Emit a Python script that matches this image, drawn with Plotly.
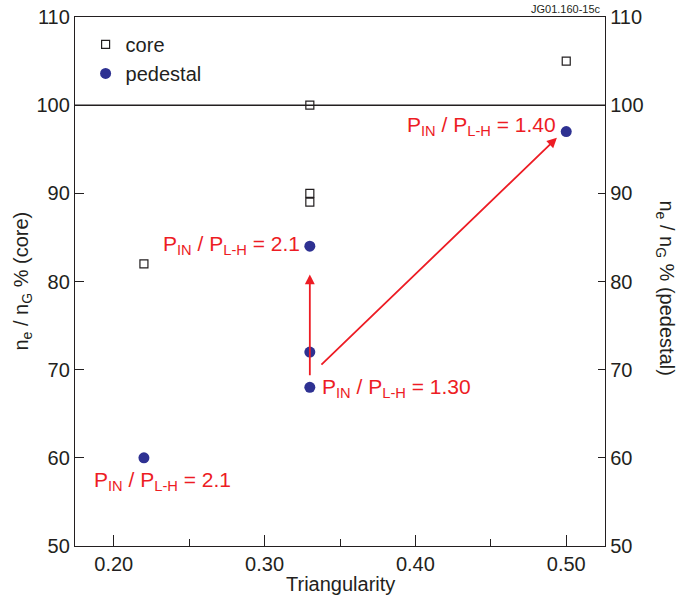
import plotly.graph_objects as go

# ---- data ----
core_x = [0.22, 0.33, 0.33, 0.33, 0.50]
core_y = [82, 100, 90, 89, 105]
ped_x = [0.22, 0.33, 0.33, 0.33, 0.50]
ped_y = [60, 84, 72, 68, 97]

x_tickvals = [0.2, 0.3, 0.4, 0.5]
x_ticktext = ["0.20", "0.30", "0.40", "0.50"]
y_tickvals = [50, 60, 70, 80, 90, 100, 110]

# arrows: (x_tail, y_tail, x_head, y_head)
arrow_tail_x = [0.33, 0.3367]
arrow_tail_y = [69.2, 70.4]
arrow_head_x = [0.33, 0.4938]
arrow_head_y = [80.8, 96.3]

# labels
sub = "P<sub>IN</sub> / P<sub>L-H</sub> = "
label_texts = [sub + "1.40", sub + "2.1", sub + "1.30", sub + "2.1"]
label_x = [0.4945, 0.3245, 0.3366, 0.1855]
label_y = [97.6, 84.1, 67.9, 57.4]
label_anchor = ["right", "right", "left", "left"]

RED = "#ED1C24"
BLUE = "#2E3192"
INK = "#231F20"
FONT = "Liberation Sans, Arial, sans-serif"

fig = go.Figure()
fig.add_trace(go.Scatter(
    x=core_x, y=core_y, mode="markers", name="core",
    marker=dict(symbol="square-open", size=8, color=INK, line=dict(width=1.2, color=INK)),
))
fig.add_trace(go.Scatter(
    x=ped_x, y=ped_y, mode="markers", name="pedestal", yaxis="y2",
    marker=dict(symbol="circle", size=11, color=BLUE, line=dict(width=0)),
))

# horizontal reference line at 100
fig.add_shape(type="line", xref="paper", x0=0, x1=1, yref="y", y0=100, y1=100,
              line=dict(color=INK, width=1.5), layer="below")

for xt, yt, xh, yh in zip(arrow_tail_x, arrow_tail_y, arrow_head_x, arrow_head_y):
    fig.add_annotation(x=xh, y=yh, ax=xt, ay=yt, xref="x", yref="y", axref="x", ayref="y",
                       text="", showarrow=True, arrowhead=2, arrowsize=1.1, arrowwidth=1.8,
                       arrowcolor=RED, standoff=0, startstandoff=0)

for t, lx, ly, anc in zip(label_texts, label_x, label_y, label_anchor):
    fig.add_annotation(x=lx, y=ly, xref="x", yref="y", text=t, showarrow=False,
                       xanchor=anc, yanchor="middle",
                       font=dict(family=FONT, size=21, color=RED))

# axis titles
fig.add_annotation(xref="paper", yref="paper", x=-0.1, y=0.5, xanchor="center", yanchor="middle",
                   text="n<sub>e</sub> / n<sub>G</sub> % (core)", textangle=-90, showarrow=False,
                   font=dict(family=FONT, size=20, color=INK))
fig.add_annotation(xref="paper", yref="paper", x=1.115, y=0.487, xanchor="center", yanchor="middle",
                   text="n<sub>e</sub> / n<sub>G</sub> % (pedestal)", textangle=90, showarrow=False,
                   font=dict(family=FONT, size=20, color=INK))
fig.add_annotation(xref="paper", yref="paper", x=0.5, y=-0.072, xanchor="center", yanchor="middle",
                   text="Triangularity", showarrow=False,
                   font=dict(family=FONT, size=20, color=INK))
fig.add_annotation(xref="paper", yref="paper", x=0.997, y=1.0, xanchor="right", yanchor="bottom",
                   text="JG01.160-15c", showarrow=False, yshift=0,
                   font=dict(family=FONT, size=11, color=INK))

axis_common = dict(showgrid=False, zeroline=False, showline=True, linecolor=INK, linewidth=1.3,
                   tickfont=dict(family=FONT, size=20, color=INK), tickcolor=INK, tickwidth=1)

fig.update_layout(
    width=683, height=603,
    margin=dict(l=75, r=78, t=17, b=57, autoexpand=False),
    paper_bgcolor="white", plot_bgcolor="white",
    showlegend=True,
    legend=dict(x=0.02, y=0.985, xanchor="left", yanchor="top", bgcolor="rgba(0,0,0,0)",
                font=dict(family=FONT, size=20, color=INK), tracegroupgap=0, itemwidth=30),
    xaxis=dict(range=[0.1743, 0.5257], tickvals=x_tickvals, ticktext=x_ticktext,
               ticks="inside", ticklen=11, mirror=True,
               minor=dict(ticks="inside", ticklen=7, dtick=0.05, tick0=0.2, tickcolor=INK),
               **axis_common),
    yaxis=dict(range=[50, 110], tickvals=y_tickvals, ticks="inside", ticklen=9, **axis_common),
    yaxis2=dict(range=[50, 110], tickvals=y_tickvals, ticks="inside", ticklen=7,
                overlaying="y", side="right", **axis_common),
)

fig.write_html("out.html")
